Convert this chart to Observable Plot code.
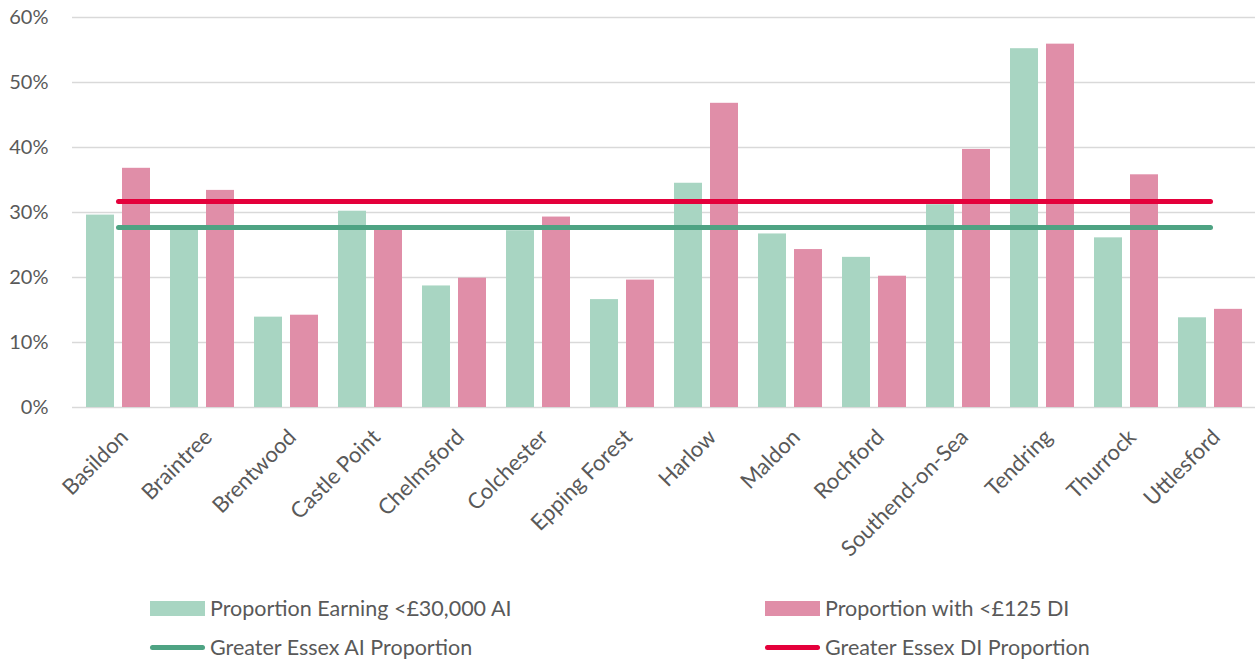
<!DOCTYPE html>
<html>
<head>
<meta charset="utf-8">
<script src="https://cdn.jsdelivr.net/npm/d3@7"></script>
<script src="https://cdn.jsdelivr.net/npm/@observablehq/plot@0.6"></script>
<style>
  html, body { margin: 0; padding: 0; background: #fff; }
  #wrap { position: relative; width: 1255px; height: 662px; font-family: Lato, "Open Sans", sans-serif; color: #595959; }
  .leg { position: absolute; display: flex; align-items: center; font-size: 21.5px; white-space: nowrap; height: 24px; }
  .sw { width: 55px; height: 15px; margin-right: 5px; }
  .ln { width: 55px; height: 5px; border-radius: 3px; margin-right: 5px; }
</style>
</head>
<body>
<div id="wrap">
  <div id="chart"></div>
  <div class="leg" style="left:150px; top:596px;"><div class="sw" style="background:#a8d5c2"></div>Proportion Earning &lt;£30,000 AI</div>
  <div class="leg" style="left:765px; top:596px;"><div class="sw" style="background:#e08ea8"></div>Proportion with &lt;£125 DI</div>
  <div class="leg" style="left:150px; top:635px;"><div class="ln" style="background:#4ea383"></div>Greater Essex AI Proportion</div>
  <div class="leg" style="left:765px; top:635px;"><div class="ln" style="background:#e4003b"></div>Greater Essex DI Proportion</div>
</div>
<script>
const categories = ["Basildon","Braintree","Brentwood","Castle Point","Chelmsford","Colchester","Epping Forest","Harlow","Maldon","Rochford","Southend-on-Sea","Tendring","Thurrock","Uttlesford"];
const aiValues = [29.6, 27.9, 13.9, 30.2, 18.7, 27.2, 16.6, 34.5, 26.7, 23.1, 31.2, 55.2, 26.1, 13.8];
const diValues = [36.8, 33.4, 14.2, 27.6, 19.9, 29.3, 19.6, 46.8, 24.3, 20.2, 39.7, 55.9, 35.8, 15.1];
const aiAverage = 27.7;
const diAverage = 31.7;
const yTicks = [0, 10, 20, 30, 40, 50, 60];

const aiData = categories.map((c, i) => ({c, v: aiValues[i]}));
const diData = categories.map((c, i) => ({c, v: diValues[i]}));
const aiLine = categories.map(c => ({c, v: aiAverage}));
const diLine = categories.map(c => ({c, v: diAverage}));

const chart = Plot.plot({
  width: 1255,
  height: 585,
  marginLeft: 72,
  marginRight: 0,
  marginTop: 17,
  marginBottom: 178,
  style: {fontFamily: "Lato, 'Open Sans', sans-serif", fontSize: "20px", color: "#595959", background: "#fff"},
  x: {domain: categories, paddingInner: 0.669, paddingOuter: 0.3345, label: null},
  y: {domain: [0, 60], label: null},
  marks: [
    Plot.ruleY(yTicks, {stroke: "#d9d9d9", strokeWidth: 1.5}),
    Plot.barY(aiData, {x: "c", y: "v", fill: "#a8d5c2", dx: -18}),
    Plot.barY(diData, {x: "c", y: "v", fill: "#e08ea8", dx: 18}),
    Plot.lineY(aiLine, {x: "c", y: "v", stroke: "#4ea383", strokeWidth: 5, strokeLinecap: "round"}),
    Plot.lineY(diLine, {x: "c", y: "v", stroke: "#e4003b", strokeWidth: 5, strokeLinecap: "round"}),
    Plot.axisY({ticks: yTicks, tickSize: 0, tickPadding: 24, tickFormat: d => d + "%", label: null, fontSize: 20}),
    Plot.axisX({tickRotate: -45, tickSize: 0, tickPadding: 26, dx: 6, label: null, fontSize: 22})
  ]
});
document.getElementById("chart").appendChild(chart);
</script>
</body>
</html>
